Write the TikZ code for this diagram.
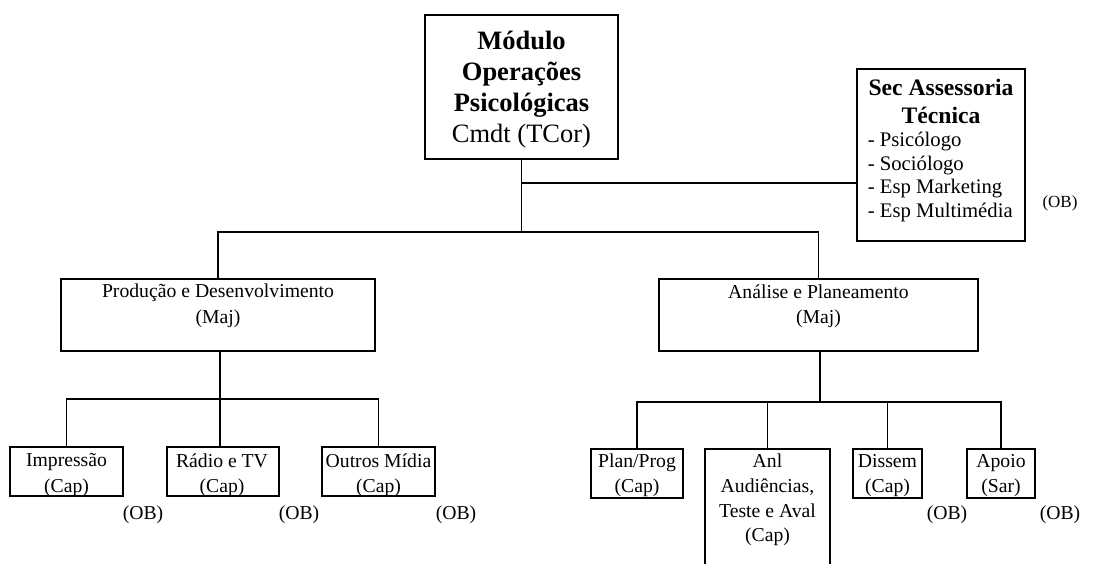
\documentclass[tikz,border=0pt]{standalone}
\usepackage{fontspec}
\setmainfont{Liberation Serif}
\begin{document}
\begin{tikzpicture}[x=1pt,y=-1pt,line width=1.6pt,
  box/.style={draw,rectangle,inner sep=0pt},
  txt/.style={inner sep=0pt,align=center,font=\fontsize{19.7}{25.5}\selectfont},
  ob/.style={inner sep=0pt,font=\fontsize{19.7}{24}\selectfont}]
\clip (0,0) rectangle (1112,563);
\useasboundingbox (0,0) rectangle (1112,563);
% boxes
\node[box,minimum width=193pt,minimum height=144pt] (top) at (521.5,87) {};
\node[box,minimum width=168pt,minimum height=172pt] (sec) at (941,155) {};
\node[box,minimum width=314pt,minimum height=72pt] (prod) at (218,315) {};
\node[box,minimum width=319pt,minimum height=72pt] (anal) at (818.5,315) {};
\node[box,minimum width=113pt,minimum height=49pt] (imp) at (66.5,471.5) {};
\node[box,minimum width=112pt,minimum height=49pt] (rad) at (223,471.5) {};
\node[box,minimum width=113pt,minimum height=49pt] (out) at (378.5,471.5) {};
\node[box,minimum width=92pt,minimum height=49pt] (plan) at (637,473.5) {};
\node[box,minimum width=125pt,minimum height=151pt] (anl) at (767.5,524.5) {};
\node[box,minimum width=69pt,minimum height=49pt] (dis) at (887.5,473.5) {};
\node[box,minimum width=68pt,minimum height=49pt] (apo) at (1001,473.5) {};
% texts
\node[inner sep=0pt,align=center,font=\fontsize{26.5}{31}\selectfont] (topt) at (521.5,90)
  {\textbf{Módulo}\\\textbf{Operações}\\\textbf{Psicológicas}\\Cmdt (TCor)};
\node[inner sep=0pt,align=center,font=\fontsize{23.6}{28}\selectfont\bfseries] (sech) at (941,101)
  {Sec Assessoria\\Técnica};
\node[inner sep=0pt,align=left,anchor=west,font=\fontsize{20.7}{23.7}\selectfont] (secl) at (867,177)
  {- Psicólogo\\- Sociólogo\\- Esp Marketing\\- Esp Multimédia};
\node[inner sep=0pt,font=\fontsize{17}{20}\selectfont] (ob0) at (1060,203) {(OB)};
\node[txt] (prodt) at (218,306) {Produção e Desenvolvimento\\(Maj)};
\node[txt] (analt) at (818.5,306) {Análise e Planeamento\\(Maj)};
\node[txt] (impt) at (66.5,475) {Impressão\\(Cap)};
\node[txt] (radt) at (222,475) {Rádio e TV\\(Cap)};
\node[txt] (outt) at (378.5,475) {Outros Mídia\\(Cap)};
\node[txt] (plant) at (637,475.5) {Plan/Prog\\(Cap)};
\node[txt,font=\fontsize{19.7}{24.7}\selectfont] (anlt) at (767.5,500) {Anl\\Audiências,\\Teste e Aval\\(Cap)};
\node[txt] (dist) at (887.5,475.5) {Dissem\\(Cap)};
\node[txt] (apot) at (1001,475.5) {Apoio\\(Sar)};
\node[ob] (ob1) at (143,515) {(OB)};
\node[ob] (ob2) at (299,515) {(OB)};
\node[ob] (ob3) at (456,515) {(OB)};
\node[ob] (ob4) at (947,515) {(OB)};
\node[ob] (ob5) at (1060,515) {(OB)};
% connectors
\coordinate (j1) at (521.5,183);
\coordinate (j2) at (521.5,232);
\coordinate (j3) at (220,399);
\coordinate (j4) at (820,402);
\draw (top.south) -- (j2);
\draw (j1) -- (j1 -| sec.west);
\draw (prod.north) |- (j2) -| (anal.north);
\draw (prod.south -| j3) -- (j3);
\draw (imp.north) |- (j3) -| (out.north);
\draw (j3) -- (j3 |- rad.north);
\draw (anal.south -| j4) -- (j4);
\draw (plan.north) |- (j4) -| (apo.north);
\draw (anl.north) -- (anl.north |- j4);
\draw (dis.north) -- (dis.north |- j4);
\end{tikzpicture}
\end{document}
